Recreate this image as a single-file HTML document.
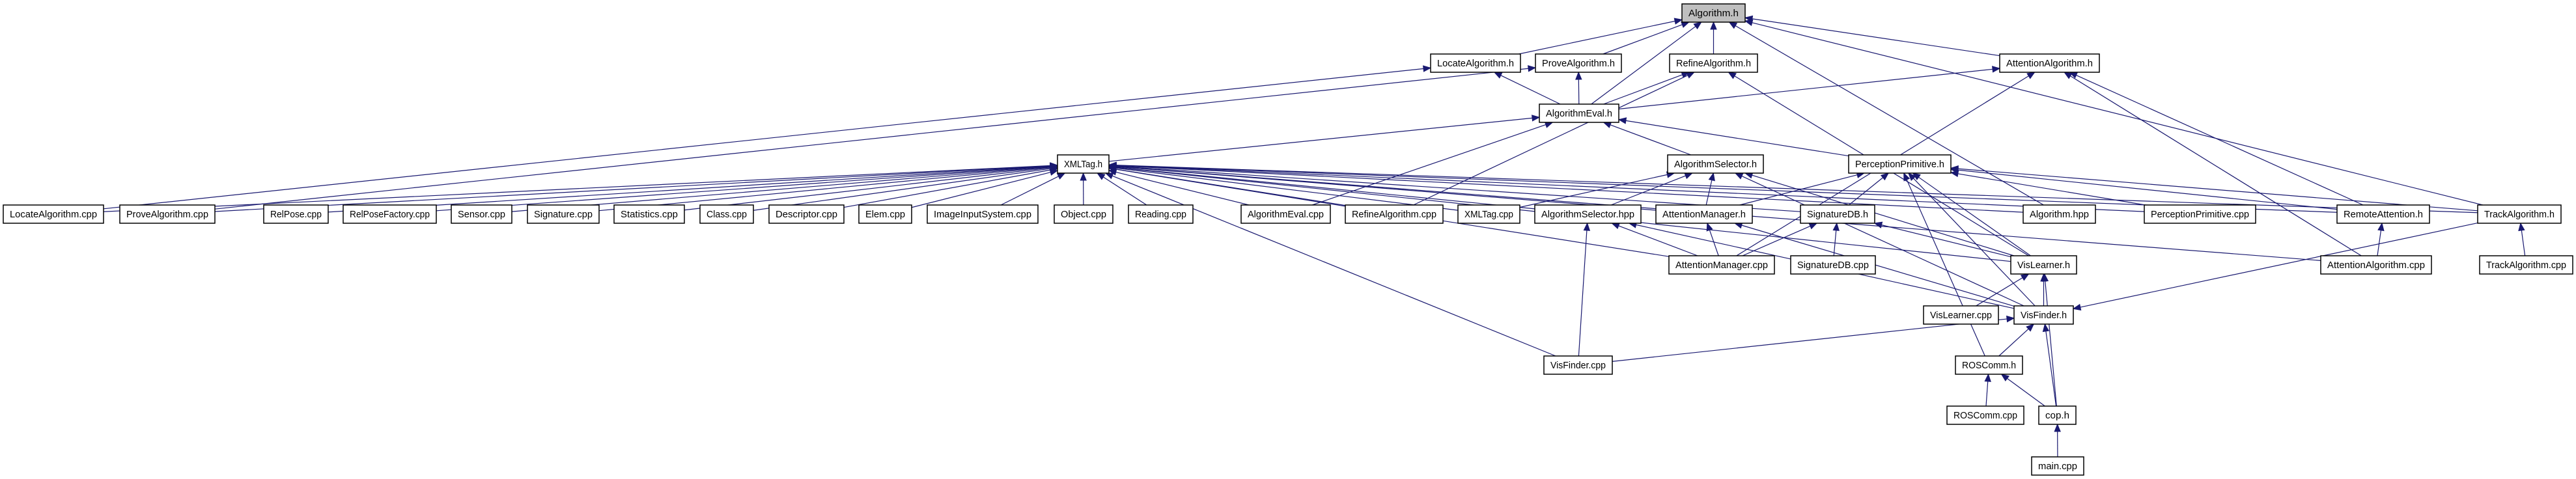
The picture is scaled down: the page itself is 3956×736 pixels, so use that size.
<!DOCTYPE html>
<html><head><meta charset="utf-8">
<style>
html,body{margin:0;padding:0;background:#fff;width:3956px;height:736px;overflow:hidden}
svg{display:block}
text{font-family:"Liberation Sans",sans-serif;font-size:15px;fill:#000}
</style></head><body>
<svg id="g" xmlns="http://www.w3.org/2000/svg" width="3956" height="736" viewBox="0 0 3956 736">
<g id="edges"></g>
<g id="nodes">
<rect x="2583" y="6" width="97" height="28" fill="#bfbfbf" stroke="#000" stroke-width="1.5"/><text x="2631.5" y="25" text-anchor="middle">Algorithm.h</text>
<rect x="2197" y="83" width="138" height="28" fill="#fff" stroke="#000" stroke-width="1.5"/><text x="2266" y="102" text-anchor="middle">LocateAlgorithm.h</text>
<rect x="2358" y="83" width="132" height="28" fill="#fff" stroke="#000" stroke-width="1.5"/><text x="2424" y="102" text-anchor="middle">ProveAlgorithm.h</text>
<rect x="2564" y="83" width="135" height="28" fill="#fff" stroke="#000" stroke-width="1.5"/><text x="2631.5" y="102" text-anchor="middle">RefineAlgorithm.h</text>
<rect x="3071" y="83" width="153" height="28" fill="#fff" stroke="#000" stroke-width="1.5"/><text x="3147.5" y="102" text-anchor="middle">AttentionAlgorithm.h</text>
<rect x="2364" y="160" width="122" height="28" fill="#fff" stroke="#000" stroke-width="1.5"/><text x="2425" y="179" text-anchor="middle">AlgorithmEval.h</text>
<rect x="1624" y="238" width="79" height="28" fill="#fff" stroke="#000" stroke-width="1.5"/><text x="1663.5" y="257" text-anchor="middle">XMLTag.h</text>
<rect x="2561" y="238" width="147" height="28" fill="#fff" stroke="#000" stroke-width="1.5"/><text x="2634.5" y="257" text-anchor="middle">AlgorithmSelector.h</text>
<rect x="2839" y="238" width="157" height="28" fill="#fff" stroke="#000" stroke-width="1.5"/><text x="2917.5" y="257" text-anchor="middle">PerceptionPrimitive.h</text>
<rect x="5" y="315" width="154" height="28" fill="#fff" stroke="#000" stroke-width="1.5"/><text x="82" y="334" text-anchor="middle">LocateAlgorithm.cpp</text>
<rect x="184" y="315" width="146" height="28" fill="#fff" stroke="#000" stroke-width="1.5"/><text x="257" y="334" text-anchor="middle">ProveAlgorithm.cpp</text>
<rect x="405" y="315" width="99" height="28" fill="#fff" stroke="#000" stroke-width="1.5"/><text x="454.5" y="334" text-anchor="middle">RelPose.cpp</text>
<rect x="527" y="315" width="143" height="28" fill="#fff" stroke="#000" stroke-width="1.5"/><text x="598.5" y="334" text-anchor="middle">RelPoseFactory.cpp</text>
<rect x="693" y="315" width="93" height="28" fill="#fff" stroke="#000" stroke-width="1.5"/><text x="739.5" y="334" text-anchor="middle">Sensor.cpp</text>
<rect x="810" y="315" width="110" height="28" fill="#fff" stroke="#000" stroke-width="1.5"/><text x="865" y="334" text-anchor="middle">Signature.cpp</text>
<rect x="943" y="315" width="108" height="28" fill="#fff" stroke="#000" stroke-width="1.5"/><text x="997" y="334" text-anchor="middle">Statistics.cpp</text>
<rect x="1075" y="315" width="82" height="28" fill="#fff" stroke="#000" stroke-width="1.5"/><text x="1116" y="334" text-anchor="middle">Class.cpp</text>
<rect x="1181" y="315" width="115" height="28" fill="#fff" stroke="#000" stroke-width="1.5"/><text x="1238.5" y="334" text-anchor="middle">Descriptor.cpp</text>
<rect x="1319" y="315" width="81" height="28" fill="#fff" stroke="#000" stroke-width="1.5"/><text x="1359.5" y="334" text-anchor="middle">Elem.cpp</text>
<rect x="1424" y="315" width="170" height="28" fill="#fff" stroke="#000" stroke-width="1.5"/><text x="1509" y="334" text-anchor="middle">ImageInputSystem.cpp</text>
<rect x="1619" y="315" width="90" height="28" fill="#fff" stroke="#000" stroke-width="1.5"/><text x="1664" y="334" text-anchor="middle">Object.cpp</text>
<rect x="1733" y="315" width="99" height="28" fill="#fff" stroke="#000" stroke-width="1.5"/><text x="1782.5" y="334" text-anchor="middle">Reading.cpp</text>
<rect x="1906" y="315" width="137" height="28" fill="#fff" stroke="#000" stroke-width="1.5"/><text x="1974.5" y="334" text-anchor="middle">AlgorithmEval.cpp</text>
<rect x="2066" y="315" width="150" height="28" fill="#fff" stroke="#000" stroke-width="1.5"/><text x="2141" y="334" text-anchor="middle">RefineAlgorithm.cpp</text>
<rect x="2239" y="315" width="95" height="28" fill="#fff" stroke="#000" stroke-width="1.5"/><text x="2286.5" y="334" text-anchor="middle">XMLTag.cpp</text>
<rect x="2357" y="315" width="163" height="28" fill="#fff" stroke="#000" stroke-width="1.5"/><text x="2438.5" y="334" text-anchor="middle">AlgorithmSelector.hpp</text>
<rect x="2543" y="315" width="148" height="28" fill="#fff" stroke="#000" stroke-width="1.5"/><text x="2617" y="334" text-anchor="middle">AttentionManager.h</text>
<rect x="2765" y="315" width="114" height="28" fill="#fff" stroke="#000" stroke-width="1.5"/><text x="2822" y="334" text-anchor="middle">SignatureDB.h</text>
<rect x="3107" y="315" width="111" height="28" fill="#fff" stroke="#000" stroke-width="1.5"/><text x="3162.5" y="334" text-anchor="middle">Algorithm.hpp</text>
<rect x="3293" y="315" width="171" height="28" fill="#fff" stroke="#000" stroke-width="1.5"/><text x="3378.5" y="334" text-anchor="middle">PerceptionPrimitive.cpp</text>
<rect x="3589" y="315" width="142" height="28" fill="#fff" stroke="#000" stroke-width="1.5"/><text x="3660" y="334" text-anchor="middle">RemoteAttention.h</text>
<rect x="3805" y="315" width="128" height="28" fill="#fff" stroke="#000" stroke-width="1.5"/><text x="3869" y="334" text-anchor="middle">TrackAlgorithm.h</text>
<rect x="2563" y="393" width="162" height="28" fill="#fff" stroke="#000" stroke-width="1.5"/><text x="2644" y="412" text-anchor="middle">AttentionManager.cpp</text>
<rect x="2750" y="393" width="130" height="28" fill="#fff" stroke="#000" stroke-width="1.5"/><text x="2815" y="412" text-anchor="middle">SignatureDB.cpp</text>
<rect x="3088" y="393" width="101" height="28" fill="#fff" stroke="#000" stroke-width="1.5"/><text x="3138.5" y="412" text-anchor="middle">VisLearner.h</text>
<rect x="3564" y="393" width="170" height="28" fill="#fff" stroke="#000" stroke-width="1.5"/><text x="3649" y="412" text-anchor="middle">AttentionAlgorithm.cpp</text>
<rect x="3808" y="393" width="143" height="28" fill="#fff" stroke="#000" stroke-width="1.5"/><text x="3879.5" y="412" text-anchor="middle">TrackAlgorithm.cpp</text>
<rect x="2954" y="470" width="115" height="28" fill="#fff" stroke="#000" stroke-width="1.5"/><text x="3011.5" y="489" text-anchor="middle">VisLearner.cpp</text>
<rect x="3093" y="470" width="91" height="28" fill="#fff" stroke="#000" stroke-width="1.5"/><text x="3138.5" y="489" text-anchor="middle">VisFinder.h</text>
<rect x="2371" y="547" width="105" height="28" fill="#fff" stroke="#000" stroke-width="1.5"/><text x="2423.5" y="566" text-anchor="middle">VisFinder.cpp</text>
<rect x="3003" y="547" width="103" height="28" fill="#fff" stroke="#000" stroke-width="1.5"/><text x="3054.5" y="566" text-anchor="middle">ROSComm.h</text>
<rect x="2990" y="624" width="118" height="28" fill="#fff" stroke="#000" stroke-width="1.5"/><text x="3049" y="643" text-anchor="middle">ROSComm.cpp</text>
<rect x="3131" y="624" width="57" height="28" fill="#fff" stroke="#000" stroke-width="1.5"/><text x="3159.5" y="643" text-anchor="middle">cop.h</text>
<rect x="3120" y="702" width="80" height="28" fill="#fff" stroke="#000" stroke-width="1.5"/><text x="3160" y="721" text-anchor="middle">main.cpp</text>
</g>
</svg>
<script>
var R=[6,83,160,238,315,393,470,547,624,702];
var N={A:[2583,2680,0],LAh:[2197,2335,1],PAh:[2358,2490,1],RAh:[2564,2699,1],AAh:[3071,3224,1],AE:[2364,2486,2],X:[1624,1703,3],AS:[2561,2708,3],PP:[2839,2996,3],
LAc:[5,159,4],PAc:[184,330,4],RP:[405,504,4],RPF:[527,670,4],Se:[693,786,4],Sg:[810,920,4],St:[943,1051,4],Cl:[1075,1157,4],De:[1181,1296,4],El:[1319,1400,4],II:[1424,1594,4],Ob:[1619,1709,4],Re:[1733,1832,4],AEc:[1906,2043,4],RAc:[2066,2216,4],Xc:[2239,2334,4],ASh:[2357,2520,4],AM:[2543,2691,4],SDB:[2765,2879,4],Ahpp:[3107,3218,4],PPc:[3293,3464,4],RA:[3589,3731,4],TA:[3805,3933,4],
AMc:[2563,2725,5],SDBc:[2750,2880,5],VL:[3088,3189,5],AAc:[3564,3734,5],TAc:[3808,3951,5],VLc:[2954,3069,6],VF:[3093,3184,6],VFc:[2371,2476,7],ROS:[3003,3106,7],ROSc:[2990,3108,8],cop:[3131,3188,8],main:[3120,3200,9]};
var E=[["LAh","A"],["PAh","A"],["AE","A"],["RAh","A"],["Ahpp","A"],["AAh","A"],["TA","A"],
["LAc","LAh"],["AE","LAh"],["PAc","PAh"],["AE","PAh"],["AE","RAh"],["RAc","RAh"],["VL","RAh"],
["AE","AAh"],["AMc","AAh"],["RA","AAh"],["AAc","AAh"],
["X","AE"],["AEc","AE"],["AS","AE"],["PP","AE"],
["Xc","AS"],["ASh","AS"],["AM","AS"],["VL","AS"],["VF","AS"],
["AM","PP"],["SDB","PP"],["ROS","PP"],["PPc","PP"],["VL","PP"],["VF","PP"],["TA","PP"],["RA","PP"],
["VFc","ASh"],["AMc","ASh"],["VF","ASh"],["AMc","AM"],["VF","AM"],["AMc","SDB"],["SDBc","SDB"],["VL","SDB"],
["VLc","VL"],["VF","VL"],["cop","VL"],["VFc","VF"],["ROS","VF"],["cop","VF"],["TA","VF"],
["AAc","RA"],["TAc","TA"],["ROSc","ROS"],["cop","ROS"],["main","cop"]];
["LAc","PAc","RP","RPF","Se","Sg","St","Cl","De","El","II","Ob","Re","AEc","RAc","Xc","ASh","AM","SDB","Ahpp","RA","AAc","TA","VL","VFc","AMc","PPc"].forEach(function(c){E.push([c,"X"]);});
function box(k){var n=N[k];return {x1:n[0],x2:n[1],y1:R[n[2]],y2:R[n[2]]+28,cx:(n[0]+n[1])/2,cy:R[n[2]]+14};}
function clip(b,px,py){var dx=px-b.cx,dy=py-b.cy;var hw=(b.x2-b.x1)/2,hh=14;var t=Math.min(dx?hw/Math.abs(dx):1e9,dy?hh/Math.abs(dy):1e9);return [b.cx+dx*t,b.cy+dy*t];}
var s="";
E.forEach(function(e){var c=box(e[0]),p=box(e[1]);
var a=clip(c,p.cx,p.cy),b=clip(p,c.cx,c.cy);
var dx=a[0]-b[0],dy=a[1]-b[1],L=Math.sqrt(dx*dx+dy*dy);var ux=dx/L,uy=dy/L;
var bx=b[0]+ux*11,by=b[1]+uy*11;
s+='<line x1="'+a[0]+'" y1="'+a[1]+'" x2="'+bx+'" y2="'+by+'" stroke="#191970" stroke-width="1.2"/>';
var px=-uy,py=ux;
s+='<polygon points="'+b[0]+','+b[1]+' '+(bx+px*4.5)+','+(by+py*4.5)+' '+(bx-px*4.5)+','+(by-py*4.5)+'" fill="#191970" stroke="#191970"/>';
});
document.getElementById("edges").innerHTML=s;
var ts=document.querySelectorAll("#nodes text");
for(var i=0;i<ts.length;i++){var r=ts[i].previousElementSibling;var w=parseFloat(r.getAttribute("width"))-20;ts[i].setAttribute("textLength",w);ts[i].setAttribute("lengthAdjust","spacingAndGlyphs");}
</script>
</body></html>
